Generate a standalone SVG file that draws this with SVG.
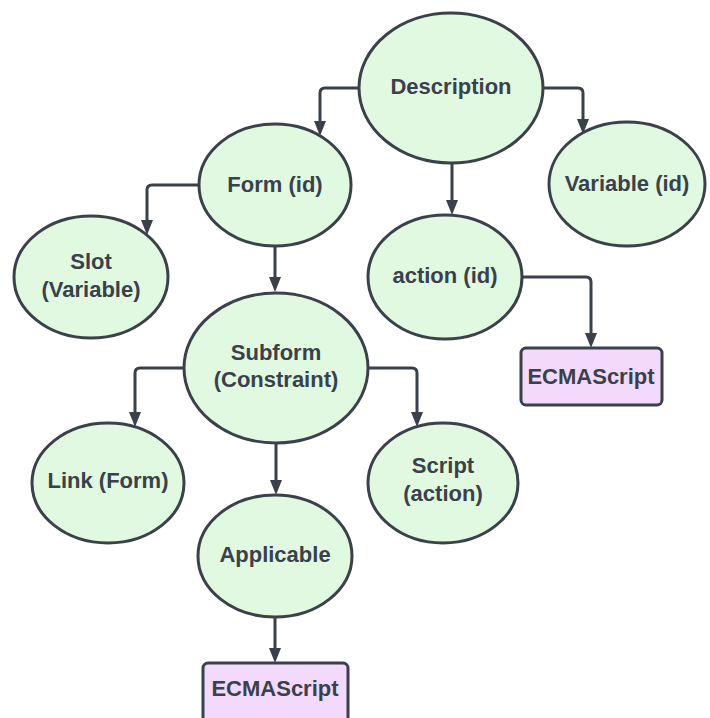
<svg xmlns="http://www.w3.org/2000/svg" width="710" height="718" viewBox="0 0 710 718">
<style>
.n{fill:#e1f9e1;stroke:#3a414a;stroke-width:3}
.b{fill:#f3dafc;stroke:#3a414a;stroke-width:3}
.t{font-family:"Liberation Sans",Arial,sans-serif;font-weight:bold;font-size:22px;fill:#3a414a;text-anchor:middle}
.c{fill:none;stroke:#3a414a;stroke-width:3}
</style>
<defs>
<marker id="ah" markerUnits="userSpaceOnUse" markerWidth="16" markerHeight="14" refX="7" refY="6" orient="auto">
<path d="M0,0 L15,6 L0,12 z" fill="#3a414a"/>
</marker>
</defs>
<rect width="710" height="718" fill="#ffffff"/>
<g id="connectors">
<path class="c" marker-end="url(#ah)" d="M359,88 H325 Q320,88 320,93 V128"/>
<path class="c" marker-end="url(#ah)" d="M543,88 H578 Q583,88 583,93 V126"/>
<path class="c" marker-end="url(#ah)" d="M452,163 V207"/>
<path class="c" marker-end="url(#ah)" d="M199,185 H152 Q147,185 147,190 V227"/>
<path class="c" marker-end="url(#ah)" d="M275,246 V284"/>
<path class="c" marker-end="url(#ah)" d="M522,277 H586 Q591,277 591,282 V340"/>
<path class="c" marker-end="url(#ah)" d="M184,368 H140 Q135,368 135,373 V419"/>
<path class="c" marker-end="url(#ah)" d="M368,368 H412 Q417,368 417,373 V419"/>
<path class="c" marker-end="url(#ah)" d="M276,442 V487"/>
<path class="c" marker-end="url(#ah)" d="M275,617 V655"/>
</g>
<g id="description"><ellipse class="n" cx="451" cy="88" rx="92" ry="75"/><text class="t" x="451" y="94">Description</text></g>
<g id="form"><ellipse class="n" cx="275" cy="185" rx="76" ry="61"/><text class="t" x="275" y="192">Form (id)</text></g>
<g id="variable"><ellipse class="n" cx="627" cy="184" rx="78" ry="62"/><text class="t" x="627" y="191">Variable (id)</text></g>
<g id="slot"><ellipse class="n" cx="91" cy="277" rx="77" ry="61"/><text class="t" x="91" y="269">Slot</text><text class="t" x="91" y="297">(Variable)</text></g>
<g id="action"><ellipse class="n" cx="445" cy="277" rx="77" ry="62"/><text class="t" x="445" y="283">action (id)</text></g>
<g id="ecmascript1"><rect class="b" x="521" y="348" width="141" height="57" rx="5"/><text class="t" x="591" y="384">ECMAScript</text></g>
<g id="subform"><ellipse class="n" cx="276" cy="368" rx="92" ry="75"/><text class="t" x="276" y="360">Subform</text><text class="t" x="276" y="387">(Constraint)</text></g>
<g id="link"><ellipse class="n" cx="108" cy="483" rx="76" ry="60"/><text class="t" x="108" y="488">Link (Form)</text></g>
<g id="script"><ellipse class="n" cx="443" cy="483" rx="75" ry="60"/><text class="t" x="443" y="473">Script</text><text class="t" x="443" y="501">(action)</text></g>
<g id="applicable"><ellipse class="n" cx="275" cy="556" rx="77" ry="61"/><text class="t" x="275" y="562">Applicable</text></g>
<g id="ecmascript2"><rect class="b" x="203" y="663" width="145" height="60" rx="5"/><text class="t" x="275" y="696">ECMAScript</text></g>
</svg>
